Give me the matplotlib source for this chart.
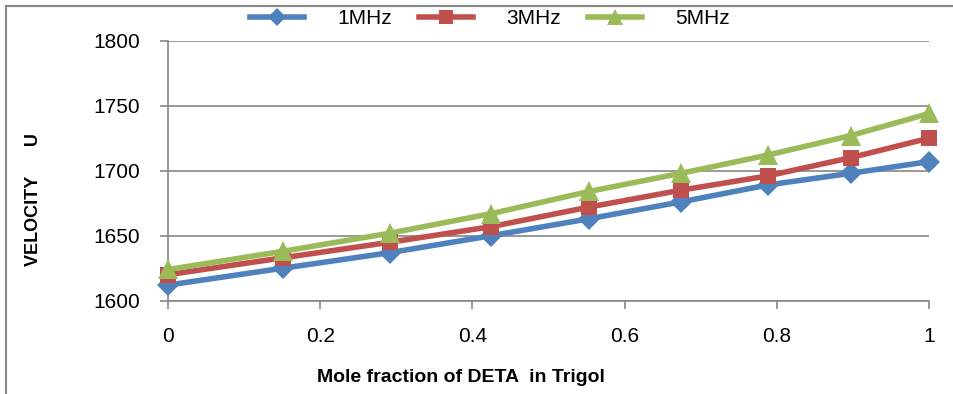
import matplotlib
matplotlib.use("Agg")
import matplotlib.pyplot as plt
from matplotlib.lines import Line2D

plt.rcParams['font.family'] = ['Liberation Sans', 'DejaVu Sans']

mole_fraction = [0.0, 0.151, 0.292, 0.425, 0.553, 0.674, 0.788, 0.897, 1.0]
v_1mhz = [1612, 1625, 1637, 1650, 1663, 1676, 1689, 1698, 1707]
v_3mhz = [1620, 1633, 1645, 1657, 1672, 1685, 1696, 1710, 1725]
v_5mhz = [1624, 1638, 1652, 1667, 1684, 1698, 1712, 1727, 1744]
series_labels = ["1MHz", "3MHz", "5MHz"]
x_ticks = [0, 0.2, 0.4, 0.6, 0.8, 1]
x_tick_labels = ["0", "0.2", "0.4", "0.6", "0.8", "1"]
y_ticks = [1600, 1650, 1700, 1750, 1800]

colors = ["#4F81BD", "#C0504D", "#9BBB59"]
markers = ["D", "s", "^"]
msizes = [11, 12, 14]

fig = plt.figure(figsize=(9.54, 3.94), dpi=100)
ax = fig.add_axes([168/954, 1-300.7/394, (929-168)/954, (300.7-40.7)/394])

for vals, c, m, ms, lab in zip([v_1mhz, v_3mhz, v_5mhz], colors, markers, msizes, series_labels):
    ax.plot(mole_fraction, vals, color=c, lw=4, marker=m, markersize=ms,
            markeredgewidth=0, label=lab, clip_on=False, zorder=3)

ax.set_xlim(0, 1)
ax.set_ylim(1600, 1800)
ax.set_xticks(x_ticks)
ax.set_xticklabels(x_tick_labels)
ax.set_yticks(y_ticks)
ax.yaxis.grid(True, color="#868686", lw=1.2)
ax.set_axisbelow(True)
for s in ["top", "right"]:
    ax.spines[s].set_visible(False)
for s in ["left", "bottom"]:
    ax.spines[s].set_color("#868686")
    ax.spines[s].set_linewidth(1.2)
ax.tick_params(axis="both", colors="#868686", length=6, width=1.2, labelsize=15,
               labelcolor="black")
ax.tick_params(axis="x", pad=13)
ax.tick_params(axis="y", pad=14)

fig.text(461/954, 1-378/394, "Mole fraction of DETA  in Trigol", fontsize=14, fontweight="bold",
         ha="center", va="center")
fig.text(34/954, 1-200/394, "VELOCITY      U", rotation=90, fontsize=13, fontweight="bold",
         ha="center", va="center")

handles = [Line2D([0], [0], color=c, lw=4, marker=m, markersize=ms*0.85, markeredgewidth=0)
           for c, m, ms in zip(colors, markers, msizes)]
fig.legend(handles, series_labels, loc="center", bbox_to_anchor=(490/954, 1-19/394),
           ncol=3, frameon=False, fontsize=15, handlelength=2.6, handletextpad=1.6,
           columnspacing=1.3)

# chart frame (top and left edges)
fig.add_artist(Line2D([6/954, 1], [1-6/394, 1-6/394], color="#868686", lw=1.5, transform=fig.transFigure))
fig.add_artist(Line2D([6/954, 6/954], [0, 1-6/394], color="#868686", lw=1.5, transform=fig.transFigure))

fig.savefig("out.png", dpi=100)
